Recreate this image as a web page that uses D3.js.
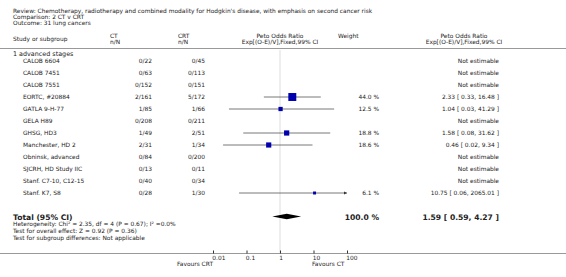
<!DOCTYPE html>
<html lang="en">
<head>
  <meta charset="UTF-8">
  <title>Forest plot</title>
  <style>
    body { margin: 0; background: #fff; }
    text { font-family: "DejaVu Sans", sans-serif; fill: #222; }
  </style>
</head>
<body>
<script src="https://d3js.org/d3.v7.min.js"></script>
<div id="chart"></div>
<script>
  // DATA ========================================================================================
  const studies = ["CALOB 6604", "CALOB 7451", "CALOB 7551", "EORTC, #20884", "GATLA 9-H-77",
    "GELA H89", "GHSG, HD3", "Manchester, HD 2", "Obninsk, advanced", "SJCRH, HD Study IIC",
    "Stanf. C7-10, C12-15", "Stanf. K7, S8"];
  const ctNN  = ["0/22", "0/63", "0/152", "2/161", "1/85", "0/208", "1/49", "2/31", "0/84", "0/13", "0/40", "0/28"];
  const crtNN = ["0/45", "0/113", "0/151", "5/172", "1/66", "0/211", "2/51", "1/34", "0/200", "0/11", "0/34", "1/30"];
  const or    = [null, null, null, 2.33, 1.04, null, 1.58, 0.46, null, null, null, 10.75];
  const lo    = [null, null, null, 0.33, 0.03, null, 0.08, 0.02, null, null, null, 0.06];
  const hi    = [null, null, null, 16.48, 41.29, null, 31.62, 9.34, null, null, null, 2065.01];
  const weight = [null, null, null, 44.0, 12.5, null, 18.8, 18.6, null, null, null, 6.1];
  const total = {or: 1.59, lo: 0.59, hi: 4.27, weight: 100.0};
  const tickVals = [0.01, 0.1, 1, 10, 100];
  const notes = [
    "Heterogeneity: Chi\u00b2 = 2.35, df = 4 (P = 0.67); I\u00b2 =0.0%",
    "Test for overall effect: Z = 0.92 (P = 0.36)",
    "Test for subgroup differences: Not applicable"
  ];

  // PLOT AREA ===================================================================================
  const W = 566, H = 277;
  const svg = d3.select("#chart").append("svg")
    .attr("width", W).attr("height", H);

  const x = d3.scaleLog().domain([0.01, 100]).range([213, 347]);
  const y = d3.scaleLinear().domain([0, 11]).range([61, 193]);
  const boxSide = d => 1.2 * Math.sqrt(d);

  const fmt = d3.format(".2f");
  const fs = 5.9;

  // header text
  const head = svg.append("g").attr("font-size", fs);
  head.append("text").attr("x", 13).attr("y", 13).text("Review:  Chemotherapy, radiotherapy and combined modality for Hodgkin's disease, with emphasis on second cancer risk");
  head.append("text").attr("x", 13).attr("y", 19).text("Comparison:  2 CT v CRT");
  head.append("text").attr("x", 13).attr("y", 25).text("Outcome:  31 lung cancers");
  head.append("text").attr("x", 13).attr("y", 41).text("Study or subgroup");
  head.append("text").attr("x", 110).attr("y", 38).text("CT");
  head.append("text").attr("x", 110).attr("y", 44).text("n/N");
  head.append("text").attr("x", 178).attr("y", 38).text("CRT");
  head.append("text").attr("x", 178).attr("y", 44).text("n/N");
  head.append("text").attr("x", 280).attr("y", 38).attr("text-anchor", "middle").text("Peto Odds Ratio");
  head.append("text").attr("x", 280).attr("y", 44).attr("text-anchor", "middle").text("Exp[(O-E)/V],Fixed,99% CI");
  head.append("text").attr("x", 338).attr("y", 38).text("Weight");
  head.append("text").attr("x", 464).attr("y", 38).attr("text-anchor", "middle").text("Peto Odds Ratio");
  head.append("text").attr("x", 464).attr("y", 44).attr("text-anchor", "middle").text("Exp[(O-E)/V],Fixed,99% CI");

  svg.append("line").attr("x1", 0).attr("x2", W).attr("y1", 48.5).attr("y2", 48.5)
    .attr("stroke", "#999").attr("stroke-width", 1.2);

  // reference line at OR = 1
  svg.append("line").attr("x1", x(1)).attr("x2", x(1)).attr("y1", 50).attr("y2", 253)
    .attr("stroke", "#ddd").attr("stroke-width", 1);

  svg.append("text").attr("x", 13).attr("y", 56).attr("font-size", 6.4).text("1 advanced stages");

  // ROWS ========================================================================================
  const rows = svg.append("g").attr("font-size", fs);
  studies.forEach((s, i) => {
    const yy = y(i);
    rows.append("text").attr("x", 23).attr("y", yy + 2).text(s);
    rows.append("text").attr("x", 152).attr("y", yy + 2).attr("text-anchor", "end").text(ctNN[i]);
    rows.append("text").attr("x", 205).attr("y", yy + 2).attr("text-anchor", "end").text(crtNN[i]);
    if (or[i] == null) {
      rows.append("text").attr("x", 499).attr("y", yy + 2).attr("text-anchor", "end").text("Not estimable");
      return;
    }
    rows.append("text").attr("x", 379).attr("y", yy + 2).attr("text-anchor", "end").text(weight[i].toFixed(1) + " %");
    rows.append("text").attr("x", 499).attr("y", yy + 2).attr("text-anchor", "end")
      .text(`${fmt(or[i])} [ ${fmt(lo[i])}, ${fmt(hi[i])} ]`);

    const x1 = x(Math.max(lo[i], 0.01)), x2 = x(Math.min(hi[i], 100));
    rows.append("line").attr("x1", x1).attr("x2", x2).attr("y1", yy).attr("y2", yy)
      .attr("stroke", "#555").attr("stroke-width", 0.8);
    if (hi[i] > 100) {
      rows.append("path")
        .attr("d", `M${x2},${yy} l-3,-1.5 l0,3 Z`)
        .attr("fill", "#333");
    }
    const b = boxSide(weight[i]);
    rows.append("rect").attr("x", x(or[i]) - b / 2).attr("y", yy - b / 2)
      .attr("width", b).attr("height", b).attr("fill", "#0000b0");
  });

  // TOTAL =======================================================================================
  const ty = 216.5;
  svg.append("text").attr("x", 13).attr("y", 220).attr("font-size", 7.6).attr("font-weight", "bold").text("Total (95% CI)");
  svg.append("text").attr("x", 379).attr("y", 219.5).attr("font-size", 7.6).attr("font-weight", "bold")
    .attr("text-anchor", "end").text(total.weight.toFixed(1) + " %");
  svg.append("text").attr("x", 499).attr("y", 219.5).attr("font-size", 7.6).attr("font-weight", "bold")
    .attr("text-anchor", "end").text(`${fmt(total.or)} [ ${fmt(total.lo)}, ${fmt(total.hi)} ]`);
  svg.append("path")
    .attr("d", `M${x(total.lo)},${ty} L${x(total.or)},${ty - 2.7} L${x(total.hi)},${ty} L${x(total.or)},${ty + 2.7} Z`)
    .attr("fill", "#000");

  notes.forEach((t, i) => {
    svg.append("text").attr("x", 13).attr("y", 225.5 + i * 7).attr("font-size", fs).text(t);
  });

  // AXIS ========================================================================================
  svg.append("line").attr("x1", 0).attr("x2", W).attr("y1", 253.5).attr("y2", 253.5)
    .attr("stroke", "#999").attr("stroke-width", 1.2);

  const axis = svg.append("g").attr("transform", "translate(0,253)")
    .call(d3.axisBottom(x).tickValues(tickVals).tickFormat(d => String(d)).tickSize(2).tickSizeOuter(0));
  axis.select(".domain").remove();
  axis.selectAll("text").attr("font-size", fs).attr("font-family", "DejaVu Sans").attr("dy", "0.3em")
    .attr("text-anchor", "start").attr("dx", "-0.2em");
  axis.selectAll("line").attr("stroke", "#333").attr("y1", -2.5).attr("y2", 0.5);

  svg.append("text").attr("x", 213).attr("y", 266).attr("font-size", fs).attr("text-anchor", "end").text("Favours CRT");
  svg.append("text").attr("x", 312).attr("y", 266).attr("font-size", fs).text("Favours CT");
</script>
</body>
</html>
